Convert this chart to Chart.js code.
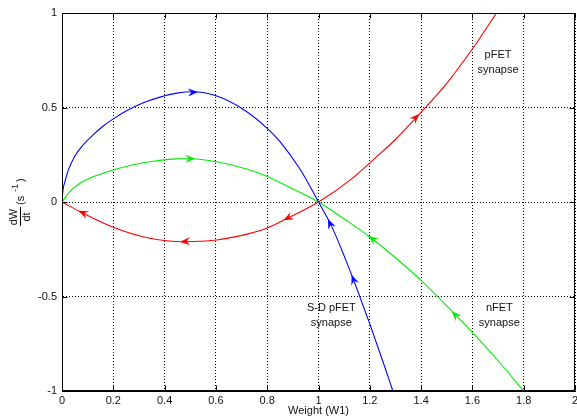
<!DOCTYPE html>
<html>
<head>
<meta charset="utf-8">
<script src="https://cdn.jsdelivr.net/npm/chart.js@4.4.1/dist/chart.umd.min.js"></script>
<style>
  html, body { margin: 0; padding: 0; background: #fff; }
  #wrap { width: 577px; height: 419px; }
</style>
</head>
<body>
<div id="wrap"><canvas id="rateChart"></canvas></div>
<script>
// weight W1 against dW/dt for the three synapse types
const sdPfetW    = [0, 0.004, 0.012, 0.025, 0.051, 0.083, 0.122, 0.161, 0.2, 0.252, 0.317, 0.382, 0.447, 0.51, 0.6, 0.7, 0.8, 0.85, 0.93, 1.0, 1.05, 1.1, 1.15, 1.2, 1.25, 1.29];
const sdPfetRate = [0, 0.065, 0.11, 0.17, 0.245, 0.303, 0.356, 0.402, 0.44, 0.483, 0.525, 0.555, 0.576, 0.583, 0.562, 0.496, 0.39, 0.319, 0.169, 0.0, -0.125, -0.285, -0.46, -0.645, -0.84, -1.0];

const nfetW    = [0, 0.031, 0.07, 0.122, 0.2, 0.278, 0.356, 0.447, 0.5, 0.603, 0.72, 0.8, 0.881, 1.0, 1.1, 1.2, 1.3, 1.4, 1.5, 1.6, 1.7, 1.8];
const nfetRate = [0, 0.055, 0.099, 0.134, 0.169, 0.197, 0.216, 0.228, 0.229, 0.213, 0.175, 0.135, 0.082, 0.0, -0.09, -0.185, -0.295, -0.415, -0.55, -0.69, -0.84, -1.0];

const pfetW    = [0, 0.02, 0.07, 0.207, 0.343, 0.472, 0.603, 0.733, 0.798, 0.876, 1.0, 1.123, 1.227, 1.298, 1.396, 1.5, 1.597, 1.694];
const pfetRate = [0, -0.015, -0.051, -0.138, -0.192, -0.21, -0.201, -0.166, -0.139, -0.088, 0.0, 0.116, 0.24, 0.328, 0.469, 0.628, 0.804, 1.0];

// flow direction markers: tip and a point behind it on the same curve
const sdPfetArrows = [[[0.53, 0.582], [0.45, 0.577]], [[1.037, -0.09], [1.06, -0.16]], [[1.129, -0.385], [1.15, -0.46]]];
const nfetArrows   = [[[0.52, 0.229], [0.44, 0.228]], [[1.194, -0.179], [1.25, -0.235]], [[1.519, -0.578], [1.56, -0.635]]];
const pfetArrows   = [[[0.064, -0.046], [0.12, -0.08]], [[0.46, -0.21], [0.54, -0.205]], [[0.863, -0.097], [0.93, -0.05]], [[1.393, 0.465], [1.33, 0.38]]];

const weightTicks = { min: 0, max: 2, step: 0.2 };
const rateTicks   = { min: -1, max: 1, step: 0.5 };

const labels = [
  { lines: ['pFET', 'synapse'], x: 1.7, y: 0.74 },
  { lines: ['nFET', 'synapse'], x: 1.705, y: -0.6 },
  { lines: ['S-D pFET', 'synapse'], x: 1.05, y: -0.6 }
];

const FONT = 'Liberation Sans, Arial, Helvetica, sans-serif';
const BLUE = '#0000ff', GREEN = '#00ee00', RED = '#ff0000';

function toPoints(xs, ys) {
  return xs.map((x, i) => ({ x: x, y: ys[i] }));
}

function series(xs, ys, color) {
  return {
    data: toPoints(xs, ys),
    borderColor: color,
    backgroundColor: color,
    borderWidth: 1.1,
    showLine: true,
    pointRadius: 0,
    cubicInterpolationMode: 'monotone'
  };
}

// plain tick text: 1 not 1.0
const plainTick = v => String(Number(v.toFixed(2)));

const decorations = {
  id: 'decorations',
  afterDatasetsDraw(chart) {
    const ctx = chart.ctx;
    const xs = chart.scales.x, ys = chart.scales.y;
    const sets = [[sdPfetArrows, BLUE], [nfetArrows, GREEN], [pfetArrows, RED]];
    ctx.save();
    sets.forEach(([list, color]) => {
      list.forEach(([tip, tail]) => {
        const tx = xs.getPixelForValue(tip[0]), ty = ys.getPixelForValue(tip[1]);
        const bx = xs.getPixelForValue(tail[0]), by = ys.getPixelForValue(tail[1]);
        const a = Math.atan2(ty - by, tx - bx);
        ctx.save();
        ctx.translate(tx, ty);
        ctx.rotate(a);
        ctx.fillStyle = color;
        ctx.beginPath();
        ctx.moveTo(0, 0);
        ctx.lineTo(-10, -4);
        ctx.lineTo(-6.5, 0);
        ctx.lineTo(-10, 4);
        ctx.closePath();
        ctx.fill();
        ctx.restore();
      });
    });
    ctx.restore();
  },
  afterDraw(chart) {
    const ctx = chart.ctx;
    const area = chart.chartArea;
    const xs = chart.scales.x, ys = chart.scales.y;
    const l = Math.round(area.left) + 0.5, r = Math.round(area.right) - 0.5;
    const t = Math.round(area.top) + 0.5, b = Math.round(area.bottom) - 0.5;
    ctx.save();
    ctx.strokeStyle = '#000';
    ctx.lineWidth = 1;
    ctx.strokeRect(l, t, r - l, b - t);

    // inward tick marks on all four sides
    ctx.beginPath();
    xs.ticks.forEach(tk => {
      const px = Math.round(xs.getPixelForValue(tk.value)) + 0.5;
      ctx.moveTo(px, b); ctx.lineTo(px, b - 5);
      ctx.moveTo(px, t); ctx.lineTo(px, t + 5);
    });
    ys.ticks.forEach(tk => {
      const py = Math.round(ys.getPixelForValue(tk.value)) + 0.5;
      ctx.moveTo(l, py); ctx.lineTo(l + 5, py);
      ctx.moveTo(r, py); ctx.lineTo(r - 5, py);
    });
    ctx.stroke();

    // curve names
    ctx.fillStyle = '#111';
    ctx.font = '11px ' + FONT;
    ctx.textAlign = 'center';
    ctx.textBaseline = 'middle';
    labels.forEach(lb => {
      const px = xs.getPixelForValue(lb.x), py = ys.getPixelForValue(lb.y);
      lb.lines.forEach((s, i) => ctx.fillText(s, px, py + (i - 0.5) * 15));
    });

    // y axis title: dW/dt (s^-1), rotated
    ctx.translate(20, 203);
    ctx.rotate(-Math.PI / 2);
    ctx.textAlign = 'center';
    ctx.fillText('dW', -14, -6);
    ctx.fillText('dt', -14, 6.5);
    ctx.beginPath();
    ctx.moveTo(-23, 0.5); ctx.lineTo(-4, 0.5);
    ctx.stroke();
    ctx.textAlign = 'left';
    ctx.fillText('(s', -2, 1);
    ctx.font = '9px ' + FONT;
    ctx.fillText('-1', 11, -4);
    ctx.font = '11px ' + FONT;
    ctx.fillText(')', 21, 1);
    ctx.restore();
  }
};

new Chart(document.getElementById('rateChart'), {
  type: 'scatter',
  data: {
    datasets: [
      series(sdPfetW, sdPfetRate, BLUE),
      series(nfetW, nfetRate, GREEN),
      series(pfetW, pfetRate, RED)
    ]
  },
  options: {
    responsive: true,
    maintainAspectRatio: false,
    animation: false,
    layout: { padding: { top: 13, right: 2, left: 0, bottom: 0 } },
    plugins: {
      legend: { display: false },
      tooltip: { enabled: false }
    },
    scales: {
      x: {
        type: 'linear',
        min: weightTicks.min,
        max: weightTicks.max,
        afterFit(scale) {
          scale.height = 28;
          scale.paddingLeft = 0;
          scale.paddingRight = 0;
        },
        ticks: {
          stepSize: weightTicks.step,
          autoSkip: false,
          maxRotation: 0,
          padding: 3,
          color: '#111',
          font: { family: FONT, size: 11 },
          callback: plainTick
        },
        grid: { color: '#000', lineWidth: 1, drawTicks: false },
        border: { color: '#000', dash: [1, 2] },
        title: {
          display: true,
          text: 'Weight (W1)',
          color: '#111',
          font: { family: FONT, size: 11 },
          padding: { top: 0, bottom: 1 }
        }
      },
      y: {
        type: 'linear',
        min: rateTicks.min,
        max: rateTicks.max,
        afterFit(scale) {
          scale.width = 62;
          scale.paddingTop = 0;
          scale.paddingBottom = 0;
        },
        ticks: {
          stepSize: rateTicks.step,
          padding: 5,
          color: '#111',
          font: { family: FONT, size: 11 },
          callback: plainTick
        },
        grid: { color: '#000', lineWidth: 1, drawTicks: false },
        border: { color: '#000', dash: [1, 2] }
      }
    }
  },
  plugins: [decorations]
});
</script>
</body>
</html>
